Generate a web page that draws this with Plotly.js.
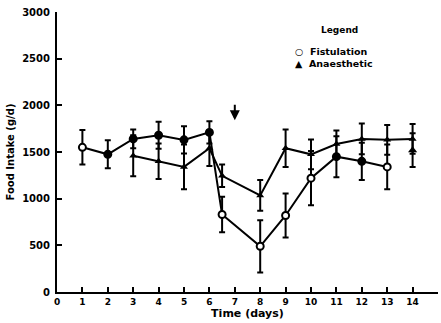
<!DOCTYPE html>
<html>
<head>
<meta charset="utf-8">
<script src="https://cdn.plot.ly/plotly-3.0.1.min.js"></script>
<style>html,body{margin:0;padding:0;background:#fff;}#chart{width:441px;height:323px;}</style>
</head>
<body>
<div id="chart"></div>
<script>
// Data
const fistDays = [1, 2, 3, 4, 5, 6, 6.5, 8, 9, 10, 11, 12, 13];
const fistIntake = [1550, 1475, 1640, 1680, 1630, 1710, 830, 490, 820, 1220, 1450, 1400, 1340];
const fistErr = [185, 150, 100, 145, 145, 120, 190, 280, 235, 290, 220, 200, 240];
const fistOpen = [true, false, false, false, false, false, true, true, true, true, false, false, true];

const anesDays = [3, 4, 5, 6, 6.5, 8, 9, 10, 11, 12, 13, 14];
const anesIntake = [1460, 1400, 1340, 1540, 1245, 1035, 1540, 1475, 1585, 1640, 1630, 1640];
const anesErr = [220, 190, 240, 190, 120, 165, 200, 160, 145, 165, 160, 160];

const extraDays = [14];
const extraIntake = [1520];
const extraErr = [180];

const xTicks = [0,1,2,3,4,5,6,7,8,9,10,11,12,13,14,15];
const yTicks = [0, 500, 1000, 1500, 2000, 2500, 3000];
const arrowDay = 7;
const arrowIntake = 1840;

const FONT = 'DejaVu Sans, Liberation Sans, sans-serif';

const errStyle = (arr) => ({type: 'data', array: arr, visible: true, color: '#000', thickness: 2, width: 3});

const traces = [
  {
    x: anesDays, y: anesIntake, mode: 'lines+markers', name: 'Anaesthetic', showlegend: false,
    line: {color: '#000', width: 2},
    marker: {symbol: 'triangle-up', size: 7, color: '#000'},
    error_y: errStyle(anesErr)
  },
  {
    x: extraDays, y: extraIntake, mode: 'markers', name: 'Anaesthetic', showlegend: false,
    marker: {symbol: 'triangle-up', size: 8, color: '#000'},
    error_y: errStyle(extraErr)
  },
  {
    x: fistDays, y: fistIntake, mode: 'lines+markers', name: 'Fistulation', showlegend: false,
    line: {color: '#000', width: 2},
    marker: {symbol: 'circle', size: 7,
      color: fistOpen.map(o => o ? '#fff' : '#000'),
      line: {color: '#000', width: 2}},
    error_y: errStyle(fistErr)
  }
];

const layout = {
  width: 441, height: 323,
  margin: {l: 57, r: 3, t: 12, b: 31},
  paper_bgcolor: '#fff', plot_bgcolor: '#fff',
  font: {family: FONT, color: '#000', size: 9, weight: 'bold'},
  xaxis: {
    range: [0, 15], tickvals: xTicks, ticktext: xTicks.map(String),
    ticks: 'inside', ticklen: 5, tickwidth: 2, tickcolor: '#000',
    showline: true, linewidth: 2, linecolor: '#000',
    showgrid: false, zeroline: false, fixedrange: true,
    tickfont: {family: FONT, size: 9, weight: 'bold'},
    title: {text: 'Time (days)', font: {family: FONT, size: 11, weight: 'bold'}, standoff: 2}
  },
  yaxis: {
    range: [0, 3000], tickvals: yTicks, ticktext: yTicks.map(String),
    ticks: 'inside', ticklen: 5, tickwidth: 2, tickcolor: '#000',
    showline: true, linewidth: 2, linecolor: '#000',
    showgrid: false, zeroline: false, fixedrange: true,
    tickfont: {family: FONT, size: 10, weight: 'bold'},
    ticklabelstandoff: 3,
    title: {text: 'Food Intake (g/d)', font: {family: FONT, size: 10, weight: 'bold'}, standoff: 6}
  },
  showlegend: false,
  annotations: [
    {x: arrowDay, y: arrowIntake, xref: 'x', yref: 'y', text: '', showarrow: true,
     ax: 0, ay: -17, arrowhead: 2, arrowsize: 1, arrowwidth: 2, arrowcolor: '#000'},
    {xref: 'paper', yref: 'paper', x: 0.742, y: 0.935, text: 'Legend', showarrow: false,
     xanchor: 'center', yanchor: 'middle', font: {family: FONT, size: 9, weight: 'bold'}},
    {xref: 'paper', yref: 'paper', x: 0.62, y: 0.86, text: '○  Fistulation', showarrow: false,
     xanchor: 'left', yanchor: 'middle', font: {family: FONT, size: 9.5, weight: 'bold'}},
    {xref: 'paper', yref: 'paper', x: 0.62, y: 0.815, text: '▲  Anaesthetic', showarrow: false,
     xanchor: 'left', yanchor: 'middle', font: {family: FONT, size: 9.5, weight: 'bold'}}
  ]
};

Plotly.newPlot('chart', traces, layout, {staticPlot: true, displayModeBar: false});
</script>
</body>
</html>
